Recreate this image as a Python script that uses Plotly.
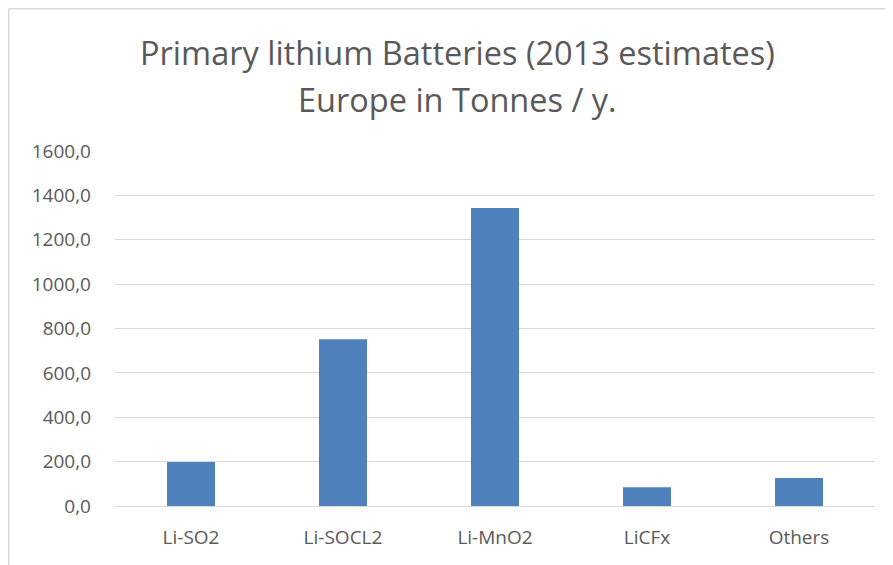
import plotly.graph_objects as go

categories = ["Li-SO2", "Li-SOCL2", "Li-MnO2", "LiCFx", "Others"]
values = [198, 752, 1343, 85, 126]
tick_vals = [0, 200, 400, 600, 800, 1000, 1200, 1400, 1600]
title_lines = ["Primary lithium Batteries (2013 estimates)", "Europe in Tonnes / y."]

# page body has an 8px margin, so the figure is drawn 8px smaller
W, H = 885, 557
L, R, T, B = 107, 18, 143, 59
pw = W - L - R
ph = H - T - B

fig = go.Figure(go.Bar(x=categories, y=values, marker=dict(color="#4F81BD", line=dict(width=0)),
                       hoverinfo="x+y"))

font_family = "Open Sans, Calibri, Carlito, sans-serif"
fig.update_layout(
    width=W, height=H,
    margin=dict(l=L, r=R, t=T, b=B),
    paper_bgcolor="white", plot_bgcolor="white",
    separators=",.",
    bargap=0.684,
    showlegend=False,
    font=dict(family=font_family, color="#595959", size=20),
)
fig.update_yaxes(range=[0, 1600], tickvals=tick_vals, tickformat=".1f",
                 showgrid=True, gridcolor="#D9D9D9", gridwidth=1.3, zeroline=False,
                 showline=False, ticks="", ticklabelstandoff=23,
                 tickfont=dict(size=19, color="#595959"))
fig.update_xaxes(showgrid=False, showline=True, linecolor="#D9D9D9", linewidth=1.3,
                 ticks="", ticklabelstandoff=14, tickfont=dict(size=19, color="#595959"))

# two-line chart title
title_centers_px = [45, 92]
for line, py in zip(title_lines, title_centers_px):
    fig.add_annotation(text=line, xref="paper", yref="paper",
                       x=(449 - L) / pw, y=(H - B - py) / ph,
                       xanchor="center", yanchor="middle", showarrow=False,
                       font=dict(size=32.5, color="#595959", family=font_family))

# chart-area border (left and top edges visible)
bx = (0.75 - L) / pw
by = (H - B - 0.75) / ph
fig.add_shape(type="line", xref="paper", yref="paper", x0=bx, x1=bx, y0=-0.3, y1=by,
              line=dict(color="#D9D9D9", width=1.5))
fig.add_shape(type="line", xref="paper", yref="paper", x0=bx, x1=1.1, y0=by, y1=by,
              line=dict(color="#D9D9D9", width=1.5))

fig.write_html("out.html")
